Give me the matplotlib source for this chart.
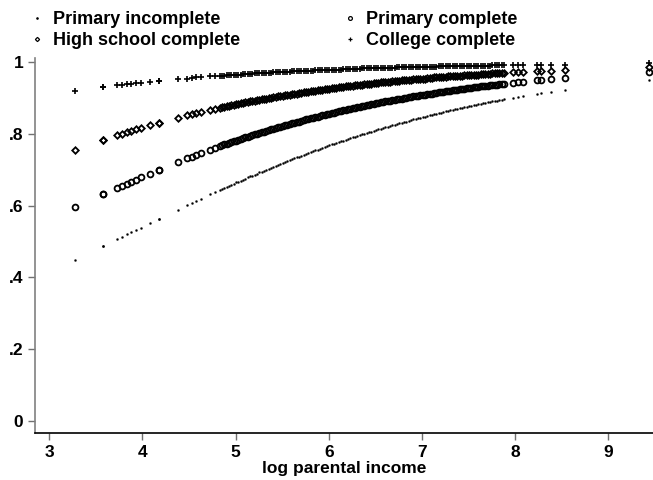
import matplotlib
matplotlib.use("Agg")
import matplotlib.pyplot as plt

plt.rcParams['font.family'] = ['Liberation Sans', 'DejaVu Sans']
plt.rcParams['font.weight'] = 'bold'

# log parental income (shared by all four predicted-probability series)
log_income = [
    3.28, 3.58, 3.58, 3.73, 3.78, 3.83, 3.88, 3.93, 3.98, 4.08, 4.18, 4.18, 4.38, 4.48, 4.53, 4.58, 4.63, 4.73, 4.78,
    4.83, 4.88, 4.93, 4.98, 5.03, 5.08, 5.13, 5.18, 5.23, 5.28,
    5.33, 5.38, 5.43, 5.48, 5.53, 5.58, 5.63, 5.68, 5.73, 5.78,
    5.83, 5.88, 5.93, 5.98, 6.03, 6.08, 6.13, 6.18, 6.23, 6.28,
    6.33, 6.38, 6.43, 6.48, 6.53, 6.58, 6.63, 6.68, 6.73, 6.78,
    6.83, 6.88, 6.93, 6.98, 7.03, 7.08, 7.13, 7.18, 7.23, 7.28,
    7.33, 7.38, 7.43, 7.48, 7.53, 7.58, 7.63, 7.68, 7.73, 7.78,
    7.83, 7.88,
    7.98, 8.03, 8.08, 8.23, 8.28, 8.38, 8.53, 9.43]

primary_incomplete = [
    0.449, 0.487, 0.487, 0.507, 0.513, 0.520, 0.526, 0.532, 0.539, 0.552, 0.564, 0.564, 0.589, 0.602, 0.608, 0.614, 0.620, 0.632, 0.638,
    0.644, 0.650, 0.656, 0.662, 0.667, 0.673, 0.679, 0.684, 0.690, 0.695,
    0.701, 0.706, 0.711, 0.717, 0.722, 0.727, 0.732, 0.737, 0.742, 0.747,
    0.752, 0.757, 0.761, 0.766, 0.771, 0.775, 0.780, 0.784, 0.788, 0.793,
    0.797, 0.801, 0.805, 0.809, 0.813, 0.817, 0.820, 0.824, 0.828, 0.832,
    0.835, 0.839, 0.842, 0.846, 0.849, 0.852, 0.855, 0.858, 0.862, 0.865,
    0.868, 0.871, 0.873, 0.876, 0.879, 0.882, 0.884, 0.887, 0.890, 0.892,
    0.894, 0.897,
    0.901, 0.904, 0.906, 0.912, 0.914, 0.918, 0.924, 0.951]

primary_complete = [
    0.596, 0.632, 0.632, 0.650, 0.656, 0.662, 0.667, 0.673, 0.679, 0.690, 0.701, 0.701, 0.722, 0.732, 0.737, 0.742, 0.747, 0.757, 0.761,
    0.766, 0.771, 0.775, 0.780, 0.784, 0.788, 0.793,
    0.797, 0.801, 0.805, 0.809, 0.813, 0.817, 0.820, 0.824, 0.828, 0.832,
    0.835, 0.839, 0.842, 0.846, 0.849, 0.852, 0.855, 0.858, 0.862, 0.865,
    0.868, 0.871, 0.873, 0.876, 0.879, 0.882, 0.884, 0.887, 0.890, 0.892,
    0.894, 0.897, 0.899, 0.901, 0.904, 0.906, 0.908, 0.910, 0.912, 0.914,
    0.916, 0.918, 0.920, 0.922, 0.924, 0.926, 0.928, 0.929, 0.931, 0.933,
    0.934, 0.936, 0.937, 0.939, 0.940,
    0.943, 0.944, 0.946, 0.950, 0.951, 0.953, 0.957, 0.972]

high_school_complete = [
    0.757, 0.784, 0.784, 0.797, 0.801, 0.805, 0.809, 0.813, 0.817, 0.824, 0.832, 0.832, 0.846, 0.852, 0.855, 0.858, 0.862, 0.868, 0.871,
    0.873, 0.876, 0.879, 0.882, 0.884, 0.887, 0.890, 0.892,
    0.894, 0.897, 0.899, 0.901, 0.904, 0.906, 0.908, 0.910, 0.912, 0.914,
    0.916, 0.918, 0.920, 0.922, 0.924, 0.926, 0.928, 0.929, 0.931, 0.933,
    0.934, 0.936, 0.937, 0.939, 0.940, 0.942, 0.943, 0.944, 0.946, 0.947,
    0.948, 0.950, 0.951, 0.952, 0.953, 0.954, 0.955, 0.957, 0.958, 0.959,
    0.960, 0.961, 0.962, 0.962, 0.963, 0.964, 0.965, 0.966, 0.967, 0.968,
    0.968, 0.969, 0.970, 0.971,
    0.972, 0.973, 0.974, 0.975, 0.976, 0.977, 0.979, 0.987]

college_complete = [
    0.920, 0.931, 0.931, 0.936, 0.937, 0.939, 0.940, 0.942, 0.943, 0.946, 0.948, 0.948, 0.953, 0.955, 0.957, 0.958, 0.959, 0.961, 0.962,
    0.962, 0.963, 0.964, 0.965, 0.966, 0.967, 0.968,
    0.968, 0.969, 0.970, 0.971, 0.971, 0.972, 0.973, 0.974, 0.974, 0.975,
    0.975, 0.976, 0.977, 0.977, 0.978, 0.978, 0.979, 0.979, 0.980, 0.980,
    0.981, 0.981, 0.982, 0.982, 0.983, 0.983, 0.984, 0.984, 0.984, 0.985,
    0.985, 0.986, 0.986, 0.986, 0.987, 0.987, 0.987, 0.988, 0.988, 0.988,
    0.989, 0.989, 0.989, 0.989, 0.990, 0.990, 0.990, 0.990, 0.991, 0.991,
    0.991, 0.991, 0.992, 0.992, 0.992,
    0.992, 0.993, 0.993, 0.993, 0.993, 0.994, 0.994, 0.997]

# further observations in the crowded middle of the income range
log_income_mid = [
    4.855, 4.905, 4.955, 5.005, 5.055, 5.105, 5.155, 5.205, 5.255, 5.305,
    5.355, 5.405, 5.455, 5.505, 5.555, 5.605, 5.655, 5.705, 5.755, 5.805,
    5.855, 5.905, 5.955, 6.005, 6.055, 6.105, 6.155, 6.205, 6.255, 6.305,
    6.355, 6.405, 6.455, 6.505, 6.555, 6.605, 6.655, 6.705, 6.755, 6.805,
    6.855, 6.905, 6.955, 7.005, 7.055, 7.105, 7.155, 7.205, 7.255, 7.305,
    7.355, 7.405, 7.455, 7.505, 7.555, 7.605, 7.655, 7.705, 7.755, 7.805,
    7.855]

primary_incomplete_mid = [
    0.647, 0.653, 0.659, 0.665, 0.670, 0.676, 0.682, 0.687, 0.693, 0.698,
    0.704, 0.709, 0.714, 0.720, 0.725, 0.730, 0.735, 0.740, 0.745, 0.750,
    0.755, 0.759, 0.764, 0.769, 0.773, 0.778, 0.782, 0.786, 0.791, 0.795,
    0.799, 0.803, 0.807, 0.811, 0.815, 0.819, 0.822, 0.826, 0.830, 0.834,
    0.837, 0.841, 0.844, 0.848, 0.851, 0.854, 0.857, 0.860, 0.864, 0.867,
    0.870, 0.872, 0.875, 0.878, 0.881, 0.883, 0.886, 0.889, 0.891, 0.893,
    0.896]

primary_complete_mid = [
    0.769, 0.773, 0.778, 0.782, 0.786, 0.791, 0.795,
    0.799, 0.803, 0.807, 0.811, 0.815, 0.819, 0.822, 0.826, 0.830, 0.834,
    0.837, 0.841, 0.844, 0.848, 0.851, 0.854, 0.857, 0.860, 0.864, 0.867,
    0.870, 0.872, 0.875, 0.878, 0.881, 0.883, 0.886, 0.889, 0.891, 0.893,
    0.896, 0.898, 0.900, 0.903, 0.905, 0.907, 0.909, 0.911, 0.913, 0.915,
    0.917, 0.919, 0.921, 0.923, 0.925, 0.927, 0.928, 0.930, 0.932, 0.933,
    0.935, 0.937, 0.938, 0.940]

high_school_complete_mid = [
    0.875, 0.878, 0.881, 0.883, 0.886, 0.889, 0.891, 0.893,
    0.896, 0.898, 0.900, 0.903, 0.905, 0.907, 0.909, 0.911, 0.913, 0.915,
    0.917, 0.919, 0.921, 0.923, 0.925, 0.927, 0.928, 0.930, 0.932, 0.933,
    0.935, 0.937, 0.938, 0.940, 0.941, 0.942, 0.944, 0.945, 0.946, 0.948,
    0.949, 0.950, 0.951, 0.953, 0.954, 0.955, 0.956, 0.957, 0.958, 0.959,
    0.960, 0.961, 0.962, 0.963, 0.964, 0.965, 0.966, 0.966, 0.967, 0.968,
    0.969, 0.970, 0.970]

college_complete_mid = [
    0.963, 0.964, 0.965, 0.966, 0.966, 0.967, 0.968,
    0.969, 0.970, 0.970, 0.971, 0.972, 0.972, 0.973, 0.974, 0.975, 0.975,
    0.976, 0.976, 0.977, 0.978, 0.978, 0.979, 0.979, 0.980, 0.980, 0.981,
    0.981, 0.982, 0.982, 0.983, 0.983, 0.983, 0.984, 0.984, 0.985, 0.985,
    0.985, 0.986, 0.986, 0.986, 0.987, 0.987, 0.987, 0.988, 0.988, 0.988,
    0.989, 0.989, 0.989, 0.990, 0.990, 0.990, 0.990, 0.991, 0.991, 0.991,
    0.991, 0.992, 0.992, 0.992]

series_labels = ["Primary incomplete", "High school complete", "Primary complete", "College complete"]
x_ticks = [3, 4, 5, 6, 7, 8, 9]
y_ticks = [0, 0.2, 0.4, 0.6, 0.8, 1.0]
y_tick_labels = ["0", ".2", ".4", ".6", ".8", "1"]
x_label = "log parental income"

x_all = log_income + log_income_mid
pi_all = primary_incomplete + primary_incomplete_mid
pc_all = primary_complete + primary_complete_mid
hs_all = high_school_complete + high_school_complete_mid
co_all = college_complete + college_complete_mid

fig = plt.figure(figsize=(6.53, 4.80), dpi=100)
ax = fig.add_axes([0.053, 0.097, 0.947, 0.782])

h_pi, = ax.plot(x_all, pi_all, linestyle='none', marker='o',
                ms=1.5, mfc='black', mec='black', mew=0.2)
h_pc, = ax.plot(x_all, pc_all, linestyle='none', marker='o',
                ms=4.2, mfc='none', mec='black', mew=1.3)
h_hs, = ax.plot(x_all, hs_all, linestyle='none', marker='D',
                ms=3.3, mfc='none', mec='black', mew=1.3)
h_co, = ax.plot(x_all, co_all, linestyle='none', marker='+',
                ms=5.0, mec='black', mew=1.2)

ax.set_xlim(2.843, 9.478)
ax.set_ylim(-0.035, 1.012)
ax.set_xticks(x_ticks)
ax.set_xticklabels([str(t) for t in x_ticks], fontsize=12.5, fontweight='bold')
ax.set_yticks(y_ticks)
ax.set_yticklabels(y_tick_labels, fontsize=12.5, fontweight='bold')
ax.set_xlabel(x_label, fontsize=12.5, fontweight='bold', labelpad=1)

for s in ['top', 'right']:
    ax.spines[s].set_visible(False)
ax.spines['left'].set_color('#808080')
ax.spines['left'].set_linewidth(1.2)
ax.spines['bottom'].set_color('black')
ax.spines['bottom'].set_linewidth(1.2)
ax.tick_params(axis='both', direction='out', length=5, width=1, color='#707070', pad=3)

leg = fig.legend([h_pi, h_hs, h_pc, h_co], series_labels, loc='upper left',
                 bbox_to_anchor=(0.0174, 1.010), ncol=2, frameon=False,
                 prop={'weight': 'bold', 'size': 13}, handlelength=1.0,
                 handletextpad=0.4, columnspacing=5.6, labelspacing=0.22,
                 markerscale=0.65)
for lh in leg.legend_handles:
    lh.set_markeredgewidth(0.9)

fig.savefig("out.png", dpi=100)
